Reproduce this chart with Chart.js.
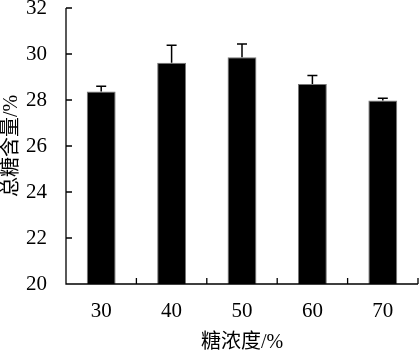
<html>

<head>
    <title>总糖含量</title>
    <script src="https://cdn.jsdelivr.net/npm/chart.js@4.4.0/dist/chart.umd.min.js"></script>
    <style>
        body { margin: 0; background: #fff; }
    </style>
</head>

<body>
    <canvas id="sugarChart" width="419" height="351"></canvas>
    <script>
        var categories = ["30", "40", "50", "60", "70"];
        var sugarValues = [28.37, 29.62, 29.86, 28.70, 27.98];
        var sugarErrors = [0.23, 0.76, 0.57, 0.37, 0.10];
        var yTicks = [20, 22, 24, 26, 28, 30, 32];

        var serif = "'Liberation Serif', 'Noto Sans CJK SC', serif";

        // error bars (upper side only) drawn through the scales
        var errorBars = {
            id: 'errorBars',
            afterDatasetsDraw: function(chart) {
                var ctx = chart.ctx;
                var yScale = chart.scales.y;
                var meta = chart.getDatasetMeta(0);
                ctx.save();
                ctx.strokeStyle = '#000';
                ctx.lineWidth = 1.5;
                meta.data.forEach(function(bar, i) {
                    var top = yScale.getPixelForValue(sugarValues[i] + sugarErrors[i]);
                    var base = yScale.getPixelForValue(sugarValues[i]);
                    ctx.beginPath();
                    ctx.moveTo(bar.x, base);
                    ctx.lineTo(bar.x, top);
                    ctx.moveTo(bar.x - 5, top);
                    ctx.lineTo(bar.x + 5, top);
                    ctx.stroke();
                });
                ctx.restore();
            }
        };

        // axis lines with inward tick marks
        var inwardTicks = {
            id: 'inwardTicks',
            afterDraw: function(chart) {
                var ctx = chart.ctx;
                var area = chart.chartArea;
                var x = chart.scales.x;
                var y = chart.scales.y;
                ctx.save();
                ctx.strokeStyle = '#000';
                ctx.lineWidth = 1.3;
                ctx.beginPath();
                ctx.moveTo(area.left, area.top);
                ctx.lineTo(area.left, area.bottom);
                ctx.lineTo(area.right, area.bottom);
                yTicks.forEach(function(v) {
                    var py = y.getPixelForValue(v);
                    ctx.moveTo(area.left, py);
                    ctx.lineTo(area.left + 6, py);
                });
                for (var i = 0; i < categories.length; i++) {
                    var px = x.getPixelForValue(i) + (x.getPixelForValue(1) - x.getPixelForValue(0)) / 2;
                    ctx.moveTo(px, area.bottom);
                    ctx.lineTo(px, area.bottom - 6);
                }
                ctx.stroke();
                ctx.restore();
            }
        };

        var ctx1 = document.getElementById("sugarChart");
        var sugarChart = new Chart(ctx1, {
            type: 'bar',
            data: {
                labels: categories,
                datasets: [{
                    label: '总糖含量',
                    data: sugarValues,
                    backgroundColor: '#000',
                    borderColor: '#777',
                    borderWidth: 1,
                    categoryPercentage: 1,
                    barPercentage: 0.41
                }]
            },
            options: {
                responsive: false,
                animation: false,
                layout: { padding: { top: 8, right: 1, left: 0, bottom: 0 } },
                plugins: {
                    legend: { display: false },
                    tooltip: { enabled: false }
                },
                scales: {
                    x: {
                        grid: { display: false },
                        border: { display: false },
                        ticks: { color: '#000', padding: 7, font: { family: serif, size: 21 } },
                        title: {
                            display: true,
                            text: '糖浓度/%',
                            color: '#000',
                            padding: { top: 0, bottom: -4 },
                            font: { family: serif, size: 20 }
                        },
                        afterFit: function(scale) { scale.height = 67; }
                    },
                    y: {
                        min: 20,
                        max: 32,
                        afterBuildTicks: function(scale) {
                            scale.ticks = yTicks.map(function(v) { return { value: v }; });
                        },
                        grid: { display: false },
                        border: { display: false },
                        ticks: { color: '#000', padding: 11, font: { family: serif, size: 21 } },
                        title: {
                            display: true,
                            text: '总糖含量/%',
                            color: '#000',
                            padding: 0,
                            font: { family: serif, size: 20 }
                        },
                        afterFit: function(scale) {
                            scale.width = 66;
                            scale.paddingTop = 0;
                            scale.paddingBottom = 0;
                        }
                    }
                }
            },
            plugins: [errorBars, inwardTicks]
        });
    </script>
</body>

</html>
